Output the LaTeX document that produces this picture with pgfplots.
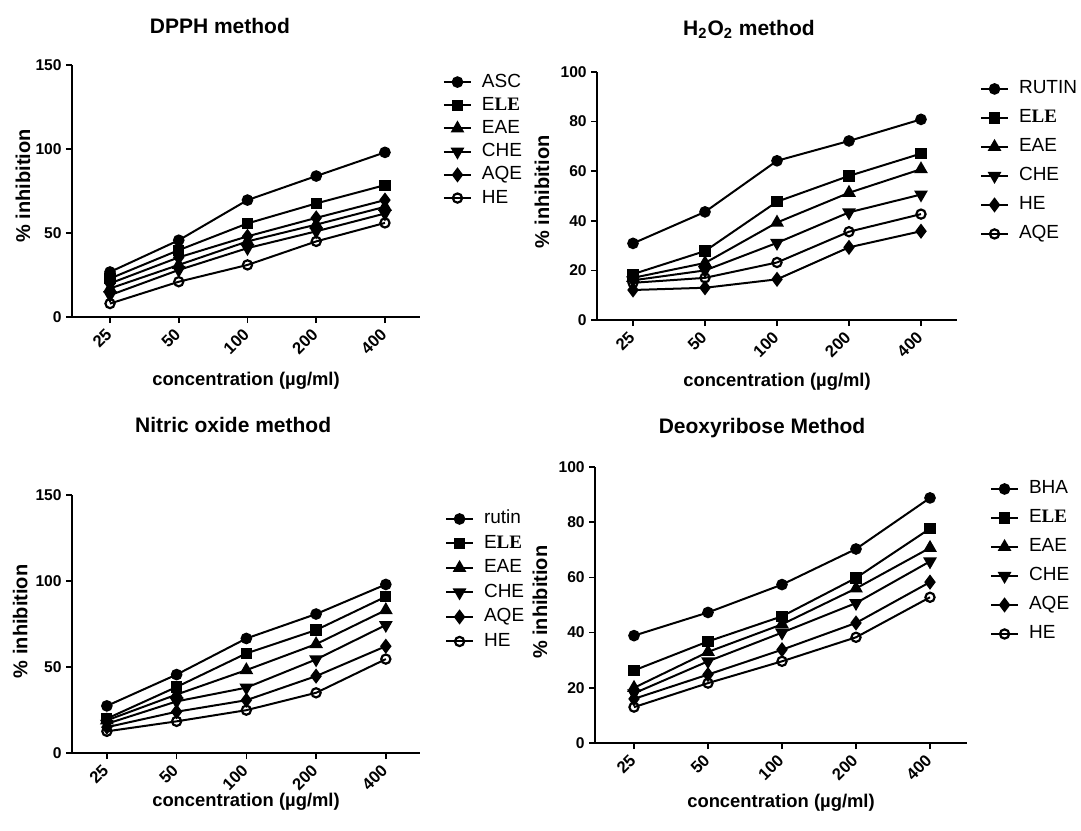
\documentclass[border=0pt]{standalone}
\usepackage{fontspec}
\setmainfont{Liberation Sans}
\newfontfamily\timesf{Liberation Serif}
\usepackage{pgfplots}
\pgfplotsset{compat=1.18}

\newcommand{\ELE}{E{\timesf\bfseries LE}}

\pgfplotsset{
  panel/.style={
    scale only axis, anchor=south west,
    axis x line*=bottom, axis y line*=left,
    axis line style={-, line width=1pt},
    ymin=0,
    xtick={0,...,4}, xticklabels={25,50,100,200,400},
    tick align=outside, major tick length=3pt,
    tick style={black, line width=0.8pt},
    /pgf/number format/assume math mode=true,
    x tick label style={font=\fontsize{8.3}{9}\selectfont\bfseries, rotate=45, anchor=east, yshift=-2.5pt},
    y tick label style={font=\fontsize{7.8}{9}\selectfont\bfseries, inner sep=2pt},
    % cancel the default 6pt lift of the title
    title style={font=\fontsize{10.5}{12}\selectfont\bfseries, anchor=center, yshift=-6pt},
    xlabel style={font=\fontsize{9.2}{10}\selectfont\bfseries, anchor=center},
    ylabel style={font=\fontsize{10}{11}\selectfont\bfseries, anchor=center},
    xlabel={concentration (µg/ml)}, ylabel={\% inhibition},
    legend cell align=left,
    legend style={draw=none, fill=none, inner sep=0pt, outer sep=0pt,
      anchor=north west, font=\fontsize{9.5}{10}\selectfont,
      nodes={inner sep=0pt, text height=7pt, text depth=2pt}, column sep=5pt},
    legend image code/.code={\draw[mark repeat=2,mark phase=2,#1]
      plot coordinates {(0pt,0pt) (6.75pt,0pt) (13.5pt,0pt)};},
  },
  sA/.style={black, line width=1pt, mark=*, mark size=2.4pt},
  sB/.style={black, line width=1pt, mark=square*, mark size=2.3pt},
  sC/.style={black, line width=1pt, mark=triangle*, mark size=3pt},
  sD/.style={black, line width=1pt, mark=triangle*, mark size=3pt, mark options={rotate=180}},
  sE/.style={black, line width=1pt, mark=diamond*, mark size=3pt},
  sF/.style={black, line width=1pt, mark=o, mark size=2.3pt, mark options={fill=white, line width=1.1pt}},
}

\begin{document}
\begin{tikzpicture}
\path[use as bounding box] (0,0) rectangle (540.5pt,-415pt);

% DPPH
\begin{axis}[panel, at={(36pt,-158.5pt)}, width=174pt, height=126pt,
  xmin=-0.553, xmax=4.51, ymax=150, ytick={0,50,100,150},
  title={DPPH method}, title style={at={(axis description cs:0.425,1.155)}},
  xlabel style={at={(axis description cs:0.5,-0.254)}},
  ylabel style={at={(axis description cs:-0.141,0.52)}},
  legend style={at={(1.066,0.968)}, row sep=2.6pt}]
\addplot[sA] coordinates {(0,26.8) (1,45.7) (2,69.6) (3,83.9) (4,98)};
\addplot[sB] coordinates {(0,22.9) (1,39.8) (2,55.7) (3,67.6) (4,78.5)};
\addplot[sC] coordinates {(0,17) (1,31) (2,45) (3,55) (4,65.6)};
\addplot[sD] coordinates {(0,13) (1,28) (2,41) (3,51) (4,61.6)};
\addplot[sE] coordinates {(0,20) (1,35.5) (2,48) (3,59) (4,69.6)};
\addplot[sF] coordinates {(0,8) (1,21) (2,31) (3,45) (4,56)};
\legend{ASC,\ELE,EAE,CHE,AQE,HE}
\end{axis}

% H2O2
\begin{axis}[panel, at={(298.5pt,-160pt)}, width=180pt, height=124pt,
  xmin=-0.5, xmax=4.5, ymax=100, ytick={0,20,...,100},
  title={H\textsubscript{2}O\textsubscript{2} method}, title style={at={(axis description cs:0.422,1.173)}},
  xlabel style={at={(axis description cs:0.5,-0.25)}},
  ylabel style={at={(axis description cs:-0.153,0.516)}},
  legend style={at={(1.064,0.968)}, row sep=5.5pt}]
\addplot[sA] coordinates {(0,30.9) (1,43.6) (2,64.2) (3,72.2) (4,80.9)};
\addplot[sB] coordinates {(0,18.5) (1,27.8) (2,47.7) (3,58.1) (4,67.1)};
\addplot[sC] coordinates {(0,17) (1,23) (2,39.3) (3,51.3) (4,60.8)};
\addplot[sD] coordinates {(0,16) (1,20) (2,31.1) (3,43.4) (4,50.6)};
\addplot[sE] coordinates {(0,12.1) (1,13) (2,16.4) (3,29.3) (4,35.8)};
\addplot[sF] coordinates {(0,15) (1,17) (2,23.2) (3,35.6) (4,42.7)};
\legend{RUTIN,\ELE,EAE,CHE,HE,AQE}
\end{axis}

% Nitric oxide
\begin{axis}[panel, at={(36pt,-376.5pt)}, width=174pt, height=129pt,
  xmin=-0.5, xmax=4.49, ymax=150, ytick={0,50,100,150},
  title={Nitric oxide method}, title style={at={(axis description cs:0.463,1.271)}},
  xlabel style={at={(axis description cs:0.5,-0.19)}},
  ylabel style={at={(axis description cs:-0.149,0.51)}},
  legend style={at={(1.072,0.942)}, row sep=3.25pt}]
\addplot[sA] coordinates {(0,27.4) (1,45.6) (2,66.6) (3,80.8) (4,98)};
\addplot[sB] coordinates {(0,20) (1,38.4) (2,57.9) (3,71.5) (4,90.9)};
\addplot[sC] coordinates {(0,19) (1,34) (2,48.2) (3,63.3) (4,83.1)};
\addplot[sD] coordinates {(0,17) (1,30) (2,38) (3,54.4) (4,74.4)};
\addplot[sE] coordinates {(0,15) (1,24) (2,30.7) (3,44.7) (4,62.1)};
\addplot[sF] coordinates {(0,12.6) (1,18.4) (2,24.9) (3,35) (4,54.6)};
\legend{rutin,\ELE,EAE,CHE,AQE,HE}
\end{axis}

% Deoxyribose
\begin{axis}[panel, at={(297.5pt,-371.5pt)}, width=186pt, height=138pt,
  xmin=-0.527, xmax=4.5, ymax=100, ytick={0,20,...,100},
  title={Deoxyribose Method}, title style={at={(axis description cs:0.449,1.141)}},
  xlabel style={at={(axis description cs:0.5,-0.217)}},
  ylabel style={at={(axis description cs:-0.148,0.51)}},
  legend style={at={(1.062,0.953)}, row sep=5.5pt}]
\addplot[sA] coordinates {(0,38.9) (1,47.3) (2,57.4) (3,70.3) (4,88.8)};
\addplot[sB] coordinates {(0,26.3) (1,36.8) (2,45.9) (3,59.8) (4,77.7)};
\addplot[sC] coordinates {(0,20) (1,33) (2,43) (3,56) (4,70.7)};
\addplot[sD] coordinates {(0,18) (1,29.6) (2,40) (3,50.7) (4,65.8)};
\addplot[sE] coordinates {(0,16) (1,24.8) (2,33.8) (3,43.5) (4,58.3)};
\addplot[sF] coordinates {(0,13) (1,21.7) (2,29.6) (3,38.3) (4,52.8)};
\legend{BHA,\ELE,EAE,CHE,AQE,HE}
\end{axis}
\end{tikzpicture}
\end{document}
